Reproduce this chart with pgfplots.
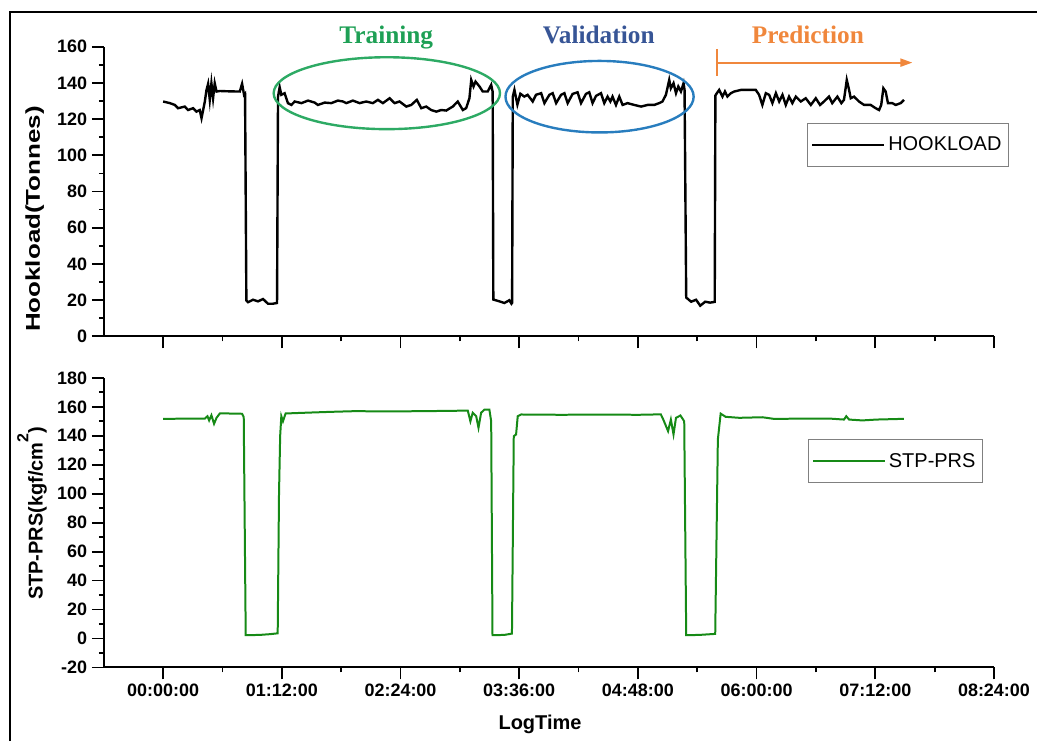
\documentclass[border=0pt]{standalone}
\usepackage{fontspec}
\setmainfont{Liberation Sans}
\newfontfamily\serifb{Liberation Serif}
\usepackage{graphicx}
\usepackage{pgfplots}
\pgfplotsset{compat=1.18}
\usetikzlibrary{arrows.meta}
\definecolor{hgreen}{RGB}{22,138,22}
\definecolor{tgreen}{RGB}{30,160,85}
\definecolor{egreen}{RGB}{45,170,100}
\definecolor{vblue}{RGB}{55,85,150}
\definecolor{eblue}{RGB}{40,125,190}
\definecolor{porange}{RGB}{240,135,60}
\pgfplotsset{origin/.style={
  scale only axis, width=668.475pt, height=217.5pt,
  xmin=-36, xmax=504,
  axis x line*=bottom, axis y line*=left,
  axis line style={line width=1.5pt,-},
  xtick={0,72,...,504}, minor x tick num=1, minor y tick num=1,
  tick align=outside, major tick length=9pt, minor tick length=3.75pt,
  tick style={black,line width=1.3pt},
  tick label style={font=\fontsize{13.5}{16}\selectfont\bfseries},
  /pgf/number format/assume math mode=true,
  label style={font=\fontsize{15}{18}\selectfont\bfseries},
  legend style={draw=gray, line width=0.75pt, font=\fontsize{15}{18}\selectfont, anchor=north west, inner xsep=3pt, inner ysep=8pt},
  legend cell align=left,
  legend image code/.code={\draw[##1] (0pt,0pt) -- (54pt,0pt);},
}}
\begin{document}
\begin{tikzpicture}
\begin{scope}[x=0.75pt,y=-0.75pt]
\useasboundingbox (0,0) rectangle (1038,742);
\end{scope}
% ---------------- top panel ----------------
\begin{axis}[origin,
  at={(103.9*0.75pt,-336.7*0.75pt)}, anchor=south west,
  ymin=0, ymax=160, ytick={0,20,...,160},
  xticklabels={},
  ylabel={\scalebox{1.3}[1]{Hookload(Tonnes)}},
  ylabel style={at={(axis description cs:-0.0717,0.405)},anchor=base},
  legend style={at={(axis description cs:0.7897,0.7359)}},
]
\addplot[black, line width=1.8pt] table {
0 129.7
4.1 128.8
7.1 127.8
9.1 126
13.1 126.9
15.1 125
18.2 126
20.2 124.1
22.2 125
23.3 120.5
25.3 129.7
26.3 136
27.3 139.5
28.3 130.6
29.3 139.8
30.3 131.5
31.3 139.8
32.4 135.2
34.4 135.5
40.4 135.3
46.5 135.2
47.9 139.5
49.1 133.4
49.7 134
50.5 19.8
51.5 18.8
54.5 20.2
57.6 19.3
60.6 20.6
63.6 18
66.6 18
69.1 18.4
69.7 132.4
70.7 137.6
71.7 133.4
73.7 134.3
75.7 128.8
77.8 127.8
79.8 129.7
83.9 128.8
87.9 130.2
91.9 129.1
93.9 127.8
98.0 129.1
102.0 128.8
106.0 130.2
109.1 129.7
111.1 128.8
115.1 130.2
119.2 128.8
123.2 129.7
127.2 128.8
130.3 130.6
133.3 128.8
137.4 131.5
140.4 128.8
143.4 129.7
147.5 126.9
150.5 127.8
153.9 130.6
156.6 126
159.6 126.9
162.6 125
165.7 124.1
168.7 125
171.7 124.7
175.7 126.9
178.7 129.7
181.8 125
183.8 126
185.8 131.5
186.9 141.6
188.3 138
189.5 140.7
191.9 138
193.9 135.2
196.9 135.2
199.0 138.9
199.9 135
200.3 20.3
204.0 19.3
207.0 18.4
210.0 19.9
211.3 18
211.7 18.5
212.1 132.4
213.1 136.1
214.9 128
216.7 134
219.1 132.4
221.1 133.4
224.2 129.7
226.2 133.4
229.3 134.3
231.3 128.8
234.3 133.4
236.3 134.3
238.4 128.8
241.4 133.4
243.4 134.3
245.4 128.8
248.4 133.9
251.4 134.8
253.5 128.8
256.5 133.9
258.5 134.8
260.5 128.8
262.6 132.8
265.6 134.3
267.6 128.8
269.6 132.4
271.3 129.7
272.6 132.4
274.7 127.8
276.7 132.4
278.7 127.8
281.7 128.8
285.8 127.8
289.9 126.9
293.9 127.8
297.9 127.8
300.9 128.8
302.9 129.7
305.0 133.4
307.0 141.6
308.0 137
309.6 139.8
311.1 134.3
312.5 138
314.1 135.2
315.7 139.8
316.3 136
317.3 21.4
320.3 19.1
323.3 20.2
325.8 16.9
328.8 19.1
331.8 18.6
334.6 19
335.0 133
335.9 134.3
337.3 136.1
339.3 132.4
340.8 135.2
342.3 132.4
344.4 134.3
346.4 135.2
350.5 136.1
359.5 136.1
361.5 133.4
363.5 127.8
365.6 134.3
367.6 133.4
369.6 128.8
371.7 134.3
373.7 129.7
375.7 133.4
377.7 127.8
379.7 132.4
381.7 128.8
383.8 132.4
386.8 129.7
389.8 131.5
392.9 127.8
395.9 131.5
398.5 127.8
400.9 129.7
403.9 132.4
405.9 128.8
409.0 132.4
411.4 128.8
413.0 130.6
414.7 141.6
416.1 136.1
417.1 131.5
419.1 132.4
422.1 129.7
425.2 127.8
429.2 127.8
432.2 126
434.3 125
435.6 127.8
436.9 137
438.3 135.2
439.7 128.8
442.3 128.8
444.4 127.8
447.4 128.8
449.4 130.6
};
\addlegendentry{HOOKLOAD}
\end{axis}
% ---------------- bottom panel ----------------
\begin{axis}[origin,
  at={(103.9*0.75pt,-668.3*0.75pt)}, anchor=south west,
  ymin=-20, ymax=180, ytick={-20,0,...,180},
  xticklabels={00:00:00,01:12:00,02:24:00,03:36:00,04:48:00,06:00:00,07:12:00,08:24:00},
  xlabel={LogTime},
  xlabel style={at={(axis description cs:0.49,-0.215)},anchor=base},
  ylabel={STP-PRS(kgf/cm\raisebox{0.72em}{\fontsize{12}{12}\selectfont 2})},
  ylabel style={at={(axis description cs:-0.0686,0.532)},anchor=base},
  legend style={at={(axis description cs:0.7909,0.7872)}},
]
\addplot[hgreen, line width=1.5pt] table {
0 151.7
25.3 151.9
26.9 153.5
27.9 150.6
29.3 154.2
30.9 148.3
32.4 152.4
34.4 155.4
39.4 155.4
47.9 155.2
48.9 153
50.1 2.3
58.6 2.5
64.7 3
69.5 3.6
70.3 100
71.0 140
71.7 153.5
72.7 150
74.3 155.4
85.9 155.9
101.0 156.5
116.2 157
137.4 156.8
156.6 157
173.7 157.2
184.8 157.4
186.4 150
187.8 155.9
189.9 153.5
191.3 145.5
192.9 155.9
194.9 158.1
197.9 158.1
199.0 150
199.8 2.3
207.0 2.5
211.6 3.4
212.7 139.7
214.1 140.9
215.1 153.5
217.2 154.7
240.4 154.5
264.6 154.6
288.8 154.5
301.9 154.8
303.4 151.2
306.3 143.2
308.0 151.2
309.6 140.9
311.1 152.4
313.8 154
316.1 150
317.3 2.3
325.2 2.5
334.9 3.2
336.5 137.4
338.2 155.3
341.2 153.1
349.5 152.4
363.5 152.8
370.3 151.7
385.8 151.8
404.0 151.9
413.0 151.2
414.4 153.5
416.1 151.2
424.1 150.6
432.7 151.2
449.3 151.7
};
\addlegendentry{STP-PRS}
\end{axis}
% ---------------- annotations ----------------
\begin{scope}[x=0.75pt,y=-0.75pt]
\draw[line width=1.9pt] (10,742) -- (10,12) -- (1038,12);
\draw[egreen, line width=1.8pt] (387.3,93.3) ellipse [x radius=113.3, y radius=36];
\draw[eblue, line width=1.8pt] (600.3,96.8) ellipse [x radius=94.2, y radius=35.8];
\node[font=\serifb\fontsize{19}{22}\selectfont\bfseries, text=tgreen, anchor=base] at (386.7,43.3) {Training};
\node[font=\serifb\fontsize{19}{22}\selectfont\bfseries, text=vblue, anchor=base] at (599.5,43.3) {Validation};
\node[font=\serifb\fontsize{19}{22}\selectfont\bfseries, text=porange, anchor=base] at (808.8,43.3) {Prediction};
\draw[porange, line width=1.5pt] (717.9,49) -- (717.9,76);
\draw[porange, line width=1.5pt, -{Triangle[length=9pt,width=6pt]}] (717.9,62.7) -- (913.5,62.7);
\end{scope}
\end{tikzpicture}
\end{document}
